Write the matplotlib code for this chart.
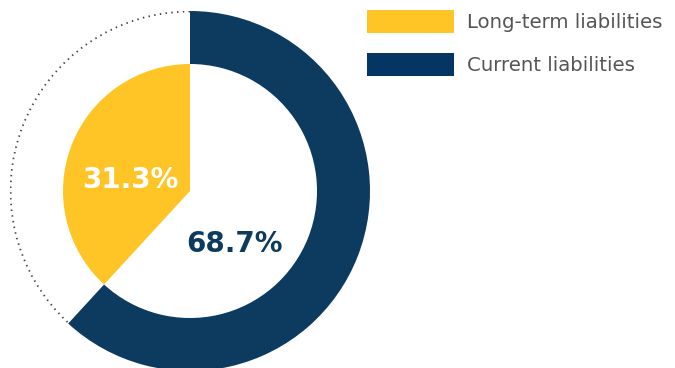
import matplotlib
matplotlib.use("Agg")
import matplotlib.pyplot as plt
from matplotlib.patches import Patch, Arc

# ---- data ----
categories = ["Long-term liabilities", "Current liabilities"]
shares = [31.3, 68.7]          # percent
colors = ["#FFC425", "#0C3B5F"]
legend_navy = "#053563"
ring_scale = 0.9               # ring uses 90% of the full circle as 100%

W, H = 675, 368
fig = plt.figure(figsize=(W / 100, H / 100), dpi=100)

# axes placed so that the ring centre is at (190, 191) px and outer radius 180 px
R = 180
cx, cy = 190, 191
ax = fig.add_axes([(cx - R) / W, (H - cy - R) / H, 2 * R / W, 2 * R / H])

cur_frac = shares[1] / 100 * ring_scale
inner_r = 127 / 180

# outer ring: current liabilities, clockwise from top
wedges, _ = ax.pie([cur_frac, 1 - cur_frac], radius=1, startangle=90,
                   counterclock=False, colors=[colors[1], "none"],
                   wedgeprops=dict(width=1 - inner_r, linewidth=0))
# inner sector: long-term liabilities fills the remaining angle
ax.pie([1 - cur_frac, cur_frac], radius=inner_r, startangle=90,
       counterclock=True, colors=[colors[0], "none"],
       wedgeprops=dict(linewidth=0))

# dotted outline for the remaining outer arc
end_angle = 90 - 360 * cur_frac + 360
arc = Arc((0, 0), 2 * 0.997, 2 * 0.997, theta1=90, theta2=end_angle,
          color="#444444", linewidth=1.3, linestyle=(0, (0.8, 2.4)))
ax.add_patch(arc)

ax.set_xlim(-1, 1)
ax.set_ylim(-1, 1)
ax.set_aspect("equal")
ax.axis("off")

# labels
ax.text(-0.33, 0.06, f"{shares[0]:.1f}%", color="white", fontsize=20,
        fontweight="bold", ha="center", va="center", family="DejaVu Sans")
ax.text(0.25, -0.295, f"{shares[1]:.1f}%", color=colors[1], fontsize=20,
        fontweight="bold", ha="center", va="center", family="DejaVu Sans")

# legend
handles = [Patch(facecolor=colors[0], edgecolor="none"),
           Patch(facecolor=legend_navy, edgecolor="none")]
leg = fig.legend(handles, categories, loc="upper left",
                 bbox_to_anchor=(367 / W, 1 - 10 / H), frameon=False,
                 fontsize=14.2, handlelength=4.42, handleheight=1.42,
                 handletextpad=0.66, labelspacing=1.0, borderaxespad=0,
                 borderpad=0, labelcolor="#555555")

fig.savefig("out.png", dpi=100)
